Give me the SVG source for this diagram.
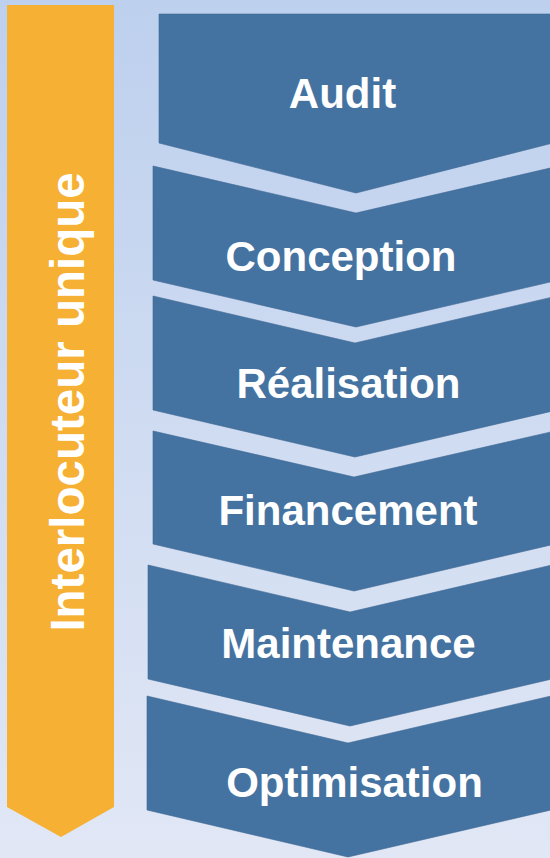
<svg xmlns="http://www.w3.org/2000/svg" width="550" height="858" viewBox="0 0 550 858">
  <defs>
    <linearGradient id="bg" x1="0" y1="0" x2="0" y2="1">
      <stop offset="0" stop-color="#bdd0ee"/>
      <stop offset="1" stop-color="#e1e7f5"/>
    </linearGradient>
    <style>
      .step { fill: #4573a1; stroke: #3d6793; stroke-width: 1; stroke-opacity: 0.6; stroke-linejoin: round; }
      .label { font-family: "Liberation Sans", Arial, sans-serif; font-weight: bold; font-size: 42px; fill: #ffffff; text-anchor: middle; }
      .side { font-family: "Liberation Sans", Arial, sans-serif; font-weight: bold; font-size: 47.5px; fill: #ffffff; text-anchor: middle; }
    </style>
  </defs>

  <rect x="0" y="0" width="550" height="858" fill="url(#bg)"/>

  <!-- vertical banner on the left -->
  <g id="interlocuteur">
    <polygon points="7,5 114,5 114,807 61,837 7,807" fill="#f6b033"/>
    <text class="side" transform="translate(84,402) rotate(-90)" x="0" y="0">Interlocuteur unique</text>
  </g>

  <!-- process steps -->
  <g id="audit">
    <polygon class="step" points="159,14 553,14 553,143 356,193 159,143"/>
    <text class="label" x="342.5" y="108">Audit</text>
  </g>
  <g id="conception">
    <polygon class="step" points="153,166 356,213 559,166 559,280 356,327 153,280"/>
    <text class="label" x="341" y="271">Conception</text>
  </g>
  <g id="realisation">
    <polygon class="step" points="153,296 355,343 557,296 557,410 355,457 153,410"/>
    <text class="label" x="348.5" y="398">Réalisation</text>
  </g>
  <g id="financement">
    <polygon class="step" points="153,431 354,477 555,431 555,544 354,591 153,544"/>
    <text class="label" x="348" y="525">Financement</text>
  </g>
  <g id="maintenance">
    <polygon class="step" points="148,565 350,612 552,565 552,679 350,726 148,679"/>
    <text class="label" x="348.5" y="658">Maintenance</text>
  </g>
  <g id="optimisation">
    <polygon class="step" points="147,696 348,743 551,696 551,810 348,857 147,810"/>
    <text class="label" x="354.5" y="797">Optimisation</text>
  </g>

  <g id="connectors"></g>
</svg>
